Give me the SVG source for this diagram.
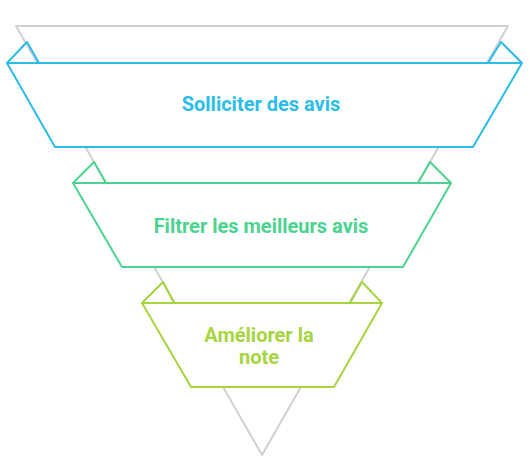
<svg xmlns="http://www.w3.org/2000/svg" width="530" height="469" viewBox="0 0 530 469">
<style>
.bg{fill:none;stroke:#d0d0d0;stroke-width:2;stroke-linejoin:round}
.tr{fill:#ffffff;stroke-width:2;stroke-linejoin:round}
.fold{fill:none;stroke-width:2;stroke-linejoin:round}
.lbl{font-family:Roboto,"Liberation Sans",sans-serif;font-weight:bold;font-size:20px;text-anchor:middle}
.blue{stroke:#2BBDE8}
.green{stroke:#4CD38F}
.lime{stroke:#A6D53F}
</style>
<rect width="530" height="469" fill="#ffffff"/>
<g id="connectors">
<polygon class="bg" points="16,26 508,26 262,455"/>
</g>
<g id="node1">
<polygon class="tr blue" points="7,63 522,63 473,147 55,147"/>
<polyline class="fold blue" points="7,63 27,42 39,63"/>
<polyline class="fold blue" points="522,63 501,42 488,63"/>
<text class="lbl" x="261" y="111" fill="#2BBDE8">Solliciter des avis</text>
</g>
<g id="node2">
<polygon class="tr green" points="73,183 451,183 403,267 122,267"/>
<polyline class="fold green" points="73,183 94,162 106,183"/>
<polyline class="fold green" points="451,183 430,162 418,183"/>
<text class="lbl" x="261" y="233" fill="#4CD38F">Filtrer les meilleurs avis</text>
</g>
<g id="node3">
<polygon class="tr lime" points="142,303 382,303 334,387 191,387"/>
<polyline class="fold lime" points="142,303 163,282 174,303"/>
<polyline class="fold lime" points="382,303 362,282 350,303"/>
<text class="lbl" x="259" y="342" fill="#A6D53F">Améliorer la</text>
<text class="lbl" x="259" y="364" fill="#A6D53F">note</text>
</g>
</svg>
